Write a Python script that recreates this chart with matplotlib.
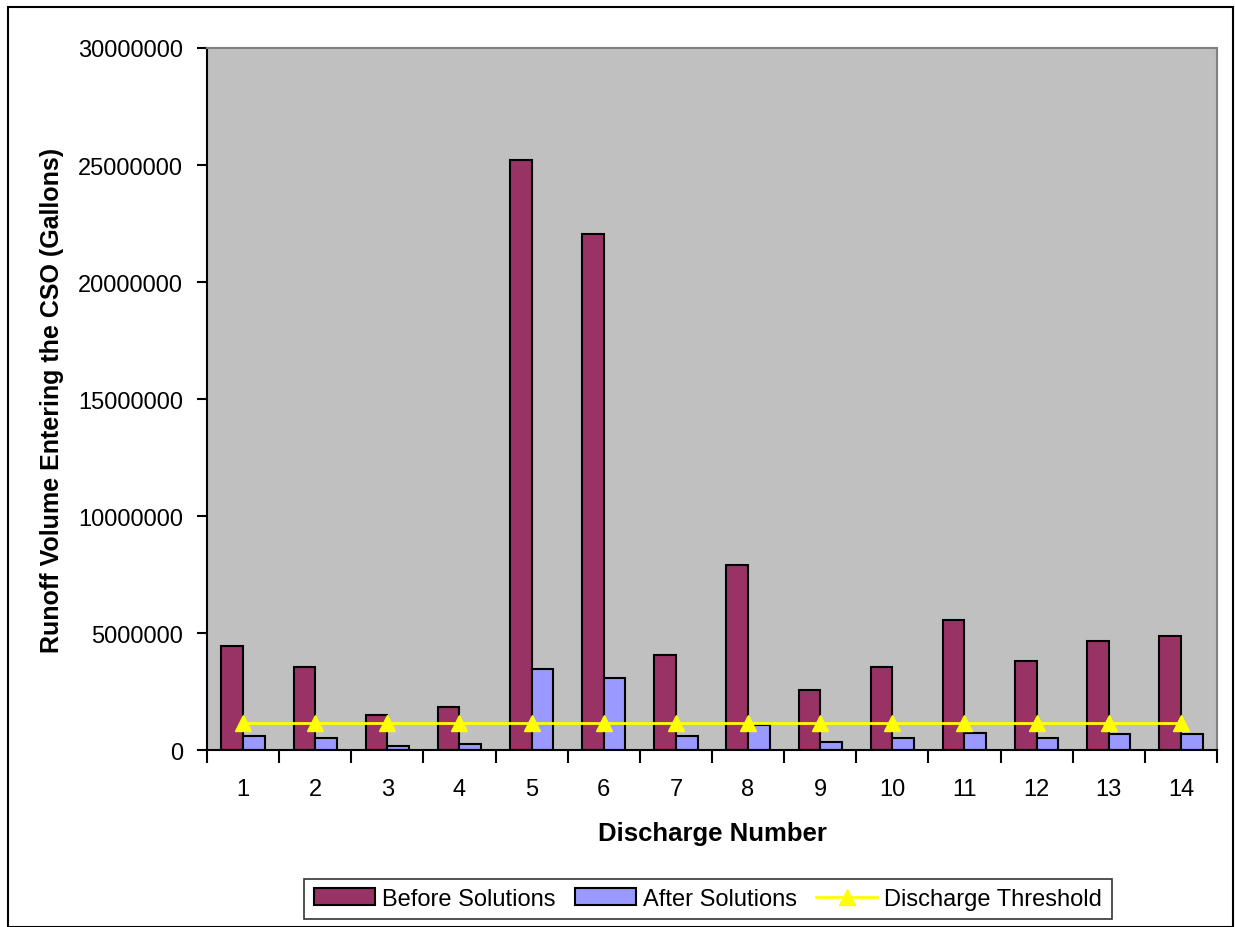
import matplotlib.pyplot as plt
import matplotlib.patches as patches
import numpy as np

plt.rcParams['font.family'] = ['Liberation Sans', 'DejaVu Sans']

discharge = list(range(1, 15))
before = [4460000, 3560000, 1500000, 1820000, 25200000, 22050000, 4060000,
          7900000, 2580000, 3560000, 5560000, 3820000, 4650000, 4890000]
after = [580000, 500000, 170000, 260000, 3470000, 3060000, 580000,
         1070000, 330000, 500000, 740000, 500000, 670000, 670000]
threshold = [1150000] * 14

fig = plt.figure(figsize=(12.35, 9.28), dpi=100)
ax = fig.add_axes([0.1676, 0.1907, 0.8178, 0.7565])

x = np.array(discharge)
w = 0.3
b1 = ax.bar(x - w / 2, before, width=w, color='#993366', edgecolor='black', linewidth=1.5,
            label='Before Solutions', zorder=2)
b2 = ax.bar(x + w / 2, after, width=w, color='#9999FF', edgecolor='black', linewidth=1.5,
            label='After Solutions', zorder=2)
ln, = ax.plot(x, threshold, color='#FFFF00', linewidth=2, marker='^', markersize=11,
              label='Discharge Threshold', zorder=3)

ax.set_facecolor('#C0C0C0')
ax.set_xlim(0.5, 14.5)
ax.set_ylim(0, 30000000)
ax.set_yticks(range(0, 30000001, 5000000))
ax.set_yticklabels([str(v) for v in range(0, 30000001, 5000000)], fontsize=17)

# ticks between categories, labels at category centres
ax.set_xticks(np.arange(0.5, 15, 1))
ax.set_xticklabels([])
ax.set_xticks(x, minor=True)
ax.set_xticklabels([str(d) for d in discharge], minor=True, fontsize=17)
ax.tick_params(axis='x', which='major', direction='out', length=9, width=1.5)
ax.tick_params(axis='x', which='minor', length=0, pad=20)
ax.tick_params(axis='y', direction='out', length=7, width=1.5, pad=10)

for s in ['left', 'bottom']:
    ax.spines[s].set_color('black')
    ax.spines[s].set_linewidth(1.5)
for s in ['top', 'right']:
    ax.spines[s].set_color('#808080')
    ax.spines[s].set_linewidth(1.5)

ax.set_xlabel('Discharge Number', fontsize=18.5, fontweight='bold', labelpad=15)
ax.set_ylabel('Runoff Volume Entering the CSO (Gallons)', fontsize=18,
              fontweight='bold', labelpad=10)

leg = ax.legend(handles=[b1, b2, ln], loc='center',
                bbox_to_anchor=(708 / 1235, 28 / 928),
                bbox_transform=fig.transFigure, ncol=3, fontsize=17, frameon=True,
                fancybox=False, edgecolor='black', handlelength=2.6,
                handletextpad=0.3, columnspacing=0.8, borderpad=0.4)
leg.get_frame().set_linewidth(1.2)

# outer chart border
fig.patches.append(patches.Rectangle((8 / 1235, 0), 1 - 10 / 1235, 1 - 8 / 928,
                                     transform=fig.transFigure, fill=False,
                                     edgecolor='black', linewidth=1.5))

fig.savefig('out.png', dpi=100)
